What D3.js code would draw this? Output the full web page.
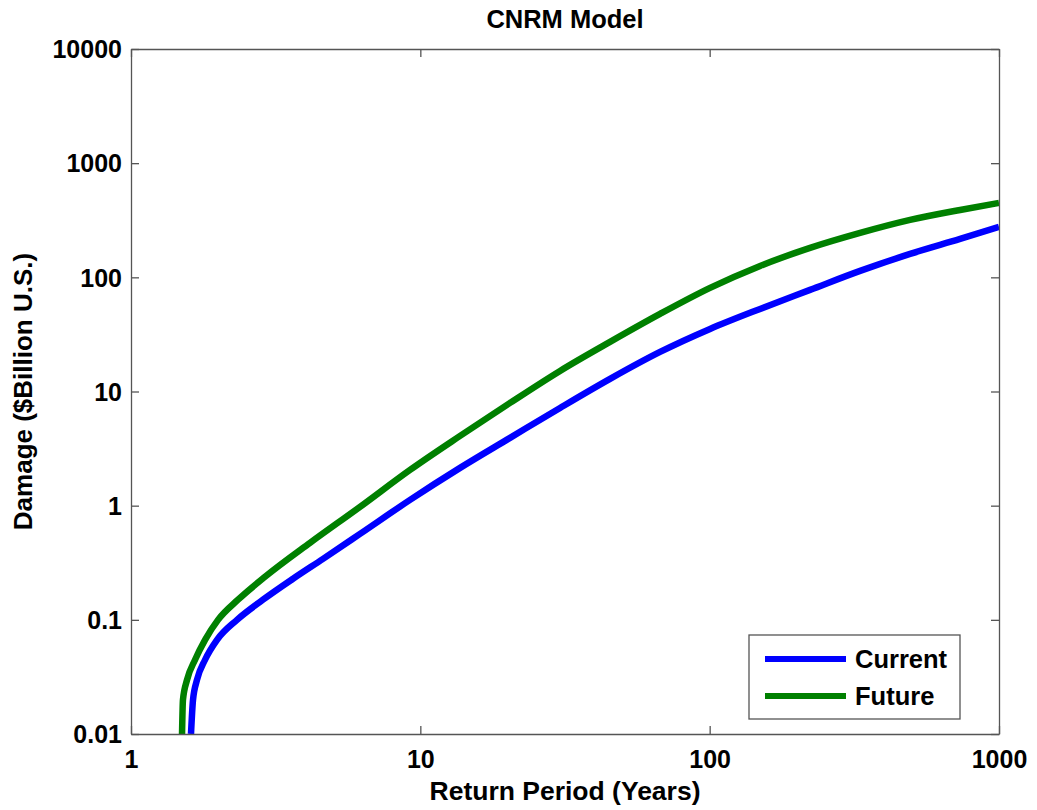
<!DOCTYPE html>
<html>
<head>
<meta charset="utf-8">
<script src="https://cdn.jsdelivr.net/npm/d3@7"></script>
<style>
  body { margin: 0; background: #fff; }
  text { font-family: "Liberation Sans", Arial, sans-serif; font-weight: bold; fill: #000; }
</style>
</head>
<body>
<svg id="chart" width="1037" height="810"></svg>
<script>
const title = "CNRM Model";
const xLabel = "Return Period (Years)";
const yLabel = "Damage ($Billion U.S.)";
const xTicks = [1, 10, 100, 1000];
const yTicks = [0.01, 0.1, 1, 10, 100, 1000, 10000];
const seriesNames = ["Current", "Future"];
const seriesColors = ["#0000ff", "#008000"];

const currentT = [1.612, 1.638, 1.691, 1.803, 1.983, 2.325, 2.859, 3.631, 4.610, 6.187, 9.214, 13.72, 20.42, 30.40, 45.26, 67.38, 100.3, 149.4, 222.3, 331.1, 492.8, 733.9, 1000];
const currentD = [0.01, 0.0199, 0.0298, 0.0447, 0.0668, 0.1, 0.150, 0.229, 0.342, 0.566, 1.124, 2.143, 3.925, 7.18, 12.9, 22.2, 35.3, 52.9, 77.6, 113.8, 160.3, 216.9, 276.3];
const futureT = [1.501, 1.512, 1.562, 1.665, 1.803, 1.999, 2.344, 2.905, 4.157, 6.187, 9.214, 13.72, 20.42, 30.40, 45.26, 67.38, 100.3, 149.4, 222.3, 331.1, 492.8, 733.9, 1000];
const futureD = [0.01, 0.0199, 0.0298, 0.0447, 0.0668, 0.1, 0.150, 0.238, 0.472, 0.976, 2.058, 4.087, 7.95, 15.15, 27.2, 47.8, 80.8, 125.9, 180.9, 244.8, 318.1, 389.2, 448.3];

const svg = d3.select("#chart");
const pLeft = 131, pRight = 999, pTop = 49, pBottom = 734;
const x = d3.scaleLog().domain([1, 1000]).range([pLeft, pRight]);
const y = d3.scaleLog().domain([0.01, 10000]).range([pBottom, pTop]);
const axisColor = "#555";
const fmt = d => String(d);

svg.append("defs").append("clipPath").attr("id", "clip")
  .append("rect").attr("x", pLeft).attr("y", pTop).attr("width", pRight - pLeft).attr("height", pBottom - pTop);

const line = d3.line().x(d => x(d[0])).y(d => y(d[1])).curve(d3.curveMonotoneX);
const series = [
  currentT.map((t, i) => [t, currentD[i]]),
  futureT.map((t, i) => [t, futureD[i]])
];
series.forEach((s, i) => {
  svg.append("path").attr("clip-path", "url(#clip)")
    .attr("d", line(s)).attr("fill", "none")
    .attr("stroke", seriesColors[i]).attr("stroke-width", 6.5)
    .attr("stroke-linejoin", "round");
});

// axes (ticks inside)
const tk = 8;
const gB = svg.append("g").attr("transform", `translate(0,${pBottom})`)
  .call(d3.axisBottom(x).tickValues(xTicks).tickFormat(fmt).tickSizeInner(-tk).tickSizeOuter(0).tickPadding(16));
const gT = svg.append("g").attr("transform", `translate(0,${pTop})`)
  .call(d3.axisTop(x).tickValues(xTicks).tickFormat("").tickSizeInner(-tk).tickSizeOuter(0));
const gL = svg.append("g").attr("transform", `translate(${pLeft},0)`)
  .call(d3.axisLeft(y).tickValues(yTicks).tickFormat(fmt).tickSizeInner(-tk).tickSizeOuter(0).tickPadding(9));
const gR = svg.append("g").attr("transform", `translate(${pRight},0)`)
  .call(d3.axisRight(y).tickValues(yTicks).tickFormat("").tickSizeInner(-tk).tickSizeOuter(0));
[gB, gT, gL, gR].forEach(g => {
  g.select(".domain").attr("stroke", axisColor).attr("stroke-width", 1.3);
  g.selectAll(".tick line").attr("stroke", axisColor).attr("stroke-width", 1.3);
  g.selectAll("text").attr("font-size", 25).attr("font-family", "Liberation Sans, Arial, sans-serif").attr("font-weight", "bold").attr("fill", "#000");
});
gB.selectAll(".tick text").attr("dy", "0.71em");
gL.selectAll(".tick text").attr("dy", "0.35em");

// title and labels
svg.append("text").attr("x", (pLeft + pRight) / 2).attr("y", 28).attr("text-anchor", "middle")
  .attr("font-size", 25.5).text(title);
svg.append("text").attr("x", (pLeft + pRight) / 2).attr("y", 800).attr("text-anchor", "middle")
  .attr("font-size", 26.5).text(xLabel);
svg.append("text").attr("transform", `translate(32,${(pTop + pBottom) / 2}) rotate(-90)`)
  .attr("text-anchor", "middle").attr("font-size", 26).text(yLabel);

// legend
const lg = svg.append("g");
lg.append("rect").attr("x", 749).attr("y", 635).attr("width", 211).attr("height", 84)
  .attr("fill", "#fff").attr("stroke", axisColor).attr("stroke-width", 1.3);
seriesNames.forEach((n, i) => {
  const yy = 659 + i * 37;
  lg.append("line").attr("x1", 765).attr("x2", 846).attr("y1", yy).attr("y2", yy)
    .attr("stroke", seriesColors[i]).attr("stroke-width", 6);
  lg.append("text").attr("x", 855).attr("y", yy).attr("dy", "0.35em").attr("font-size", 25.5).text(n);
});
</script>
</body>
</html>
